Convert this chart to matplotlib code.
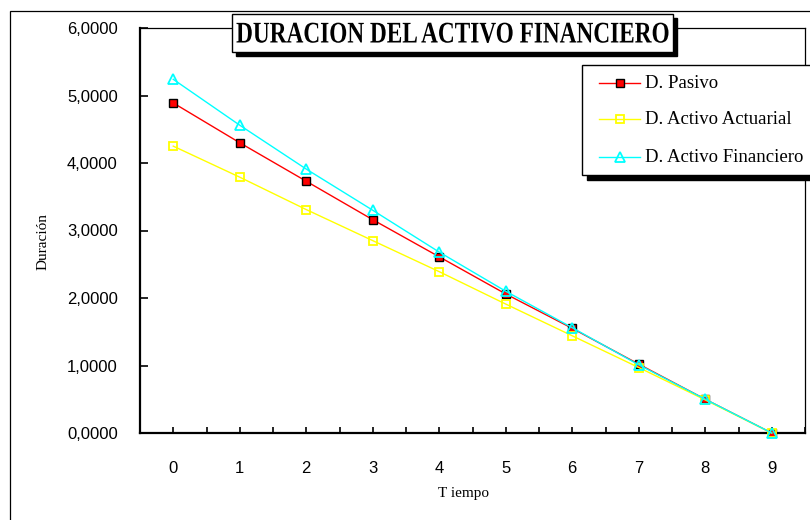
import matplotlib
matplotlib.use("Agg")
import matplotlib.pyplot as plt
from matplotlib.patches import Rectangle, PathPatch
from matplotlib.lines import Line2D
from matplotlib.textpath import TextPath
from matplotlib.font_manager import FontProperties
from matplotlib.transforms import Affine2D
from matplotlib.ticker import FuncFormatter, MultipleLocator

# ---- data ----
tiempo = [0, 1, 2, 3, 4, 5, 6, 7, 8, 9]
d_pasivo = [4.89, 4.30, 3.73, 3.16, 2.61, 2.06, 1.55, 1.02, 0.50, 0.00]
d_activo_actuarial = [4.25, 3.79, 3.31, 2.85, 2.39, 1.91, 1.44, 0.97, 0.49, 0.00]
d_activo_financiero = [5.24, 4.56, 3.91, 3.30, 2.68, 2.10, 1.56, 1.01, 0.50, 0.00]
series_names = ["D. Pasivo", "D. Activo Actuarial", "D. Activo Financiero"]
title_text = "DURACION DEL ACTIVO FINANCIERO"
x_label = "T iempo"
y_label = "Duración"

W, H = 810, 520
fig = plt.figure(figsize=(W / 100, H / 100), dpi=100)
fig.patch.set_facecolor("white")


def fx(px):
    return px / W


def fy(py):
    return 1 - py / H


SERIF = "Liberation Serif"
SANS = "Liberation Sans"

# outer chart border (runs off the right and bottom edges)
fig.add_artist(Rectangle((fx(10), fy(540)), fx(840) - fx(10), fy(11) - fy(540),
                         transform=fig.transFigure, fill=False,
                         edgecolor="black", linewidth=0.9, zorder=0))

# plot area
left, right, top, bottom = 140, 805, 28, 433
ax = fig.add_axes([fx(left), fy(bottom), fx(right) - fx(left), fy(top) - fy(bottom)])

styles = [
    dict(color="#ff0000", marker="s", markersize=6.3, markerfacecolor="#ff0000",
         markeredgecolor="black", markeredgewidth=1.0),
    dict(color="#ffff00", marker="s", markersize=6.3, markerfacecolor="none",
         markeredgecolor="#ffff00", markeredgewidth=1.3),
    dict(color="#00ffff", marker="^", markersize=7, markerfacecolor="none",
         markeredgecolor="#00ffff", markeredgewidth=1.3),
]
for vals, st in zip([d_pasivo, d_activo_actuarial, d_activo_financiero], styles):
    ax.plot(tiempo, vals, linewidth=1.0, clip_on=False, zorder=3, **st)

ax.set_xlim(-0.5, 9.5)
ax.set_ylim(0, 6)
ax.set_xticks(tiempo)
ax.set_xticks([t + 0.5 for t in [-1] + tiempo], minor=True)
ax.yaxis.set_major_locator(MultipleLocator(1))
ax.yaxis.set_major_formatter(FuncFormatter(lambda v, p: f"{v:.4f}".replace(".", ",")))

ax.tick_params(axis="x", which="both", direction="in", length=4, width=1.2,
               pad=20, labelsize=12)
ax.tick_params(axis="y", which="major", direction="in", length=6, width=1.2,
               pad=16, labelsize=12)
for lab in ax.get_xticklabels() + ax.get_yticklabels():
    lab.set_fontfamily(SANS)

for side in ["left", "bottom"]:
    ax.spines[side].set_linewidth(1.6)
for side in ["top", "right"]:
    ax.spines[side].set_linewidth(0.9)

# axis titles
fig.text(fx(464), fy(493), x_label, ha="center", va="center",
         fontsize=11, family=SERIF)
fig.text(fx(43), fy(242), y_label, ha="center", va="center",
         fontsize=11, family=SERIF, rotation=90)

# title box with drop shadow
tb_l, tb_r, tb_t, tb_b, sh = 232, 673, 14, 52, 4
fig.add_artist(Rectangle((fx(tb_l + sh), fy(tb_b + sh)), fx(tb_r) - fx(tb_l),
                         fy(tb_t) - fy(tb_b), transform=fig.transFigure,
                         facecolor="black", edgecolor="black", zorder=5))
fig.add_artist(Rectangle((fx(tb_l), fy(tb_b)), fx(tb_r) - fx(tb_l),
                         fy(tb_t) - fy(tb_b), transform=fig.transFigure,
                         facecolor="white", edgecolor="black", linewidth=1.0, zorder=6))

# condensed bold serif title drawn as a text path (pixel units)
tp = TextPath((0, 0), title_text, size=30,
              prop=FontProperties(family=SERIF, weight="bold"))
ext = tp.get_extents()
target_w = 432.0
sx = target_w / ext.width
cx = (tb_l + tb_r) / 2
baseline = 42.5
tr = Affine2D().translate(-ext.x0, 0).scale(sx, 1.0).translate(cx - target_w / 2, H - baseline)
fig.add_artist(PathPatch(tp, transform=tr, facecolor="black", edgecolor="none",
                         zorder=7))

# legend box with drop shadow
lg_l, lg_r, lg_t, lg_b, lsh = 582, 840, 65, 175, 5
fig.add_artist(Rectangle((fx(lg_l + lsh), fy(lg_b + lsh)), fx(lg_r) - fx(lg_l),
                         fy(lg_t) - fy(lg_b), transform=fig.transFigure,
                         facecolor="black", edgecolor="black", zorder=5))
fig.add_artist(Rectangle((fx(lg_l), fy(lg_b)), fx(lg_r) - fx(lg_l),
                         fy(lg_t) - fy(lg_b), transform=fig.transFigure,
                         facecolor="white", edgecolor="black", linewidth=1.0, zorder=6))
entry_y = [83, 119, 157]
for name, st, ey in zip(series_names, styles, entry_y):
    fig.add_artist(Line2D([fx(599), fx(640)], [fy(ey), fy(ey)],
                          transform=fig.transFigure, linewidth=1.0, zorder=7,
                          color=st["color"]))
    mst = {k: v for k, v in st.items() if k != "color"}
    fig.add_artist(Line2D([fx(619.5)], [fy(ey)], transform=fig.transFigure,
                          linestyle="none", zorder=8, **mst))
    fig.text(fx(645), fy(ey), name, ha="left", va="center", fontsize=13.5,
             family=SERIF, zorder=8)

fig.savefig("out.png", dpi=100, facecolor="white")
